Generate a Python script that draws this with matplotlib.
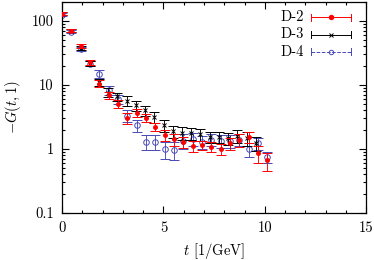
import matplotlib
matplotlib.use("Agg")
import matplotlib.pyplot as plt
from matplotlib.ticker import FixedLocator, FuncFormatter, LogLocator, NullFormatter, MultipleLocator

plt.rcParams['font.family'] = 'cmr10'
plt.rcParams['mathtext.fontset'] = 'cm'
plt.rcParams['axes.formatter.use_mathtext'] = True

# D-2
t_d2 = [0.0, 0.46, 0.92, 1.38, 1.84, 2.30, 2.76, 3.22, 3.68, 4.14, 4.60, 5.06,
        5.52, 5.98, 6.44, 6.90, 7.36, 7.82, 8.28, 8.74, 9.20, 9.66, 10.12]
g_d2 = [130, 70, 40, 22.5, 10.5, 6.9, 5.1, 3.06, 3.66, 3.06, 2.22, 1.65,
        1.41, 1.30, 1.11, 1.15, 1.09, 1.0, 1.22, 1.38, 1.55, 0.86, 0.66]
e_d2 = [8, 4, 3, 2, 1.3, 0.9, 0.8, 0.6, 0.5, 0.4, 0.35, 0.3,
        0.3, 0.25, 0.2, 0.2, 0.2, 0.2, 0.25, 0.3, 0.3, 0.25, 0.2]

# D-3
t_d3 = [0.0, 0.455, 0.91, 1.365, 1.82, 2.275, 2.73, 3.185, 3.64, 4.095, 4.55,
        5.005, 5.46, 5.915, 6.37, 6.825, 7.28, 7.735, 8.19, 8.645, 9.10, 9.555]
g_d3 = [130, 70, 38, 22, 11, 7.6, 6.6, 5.7, 4.8, 4.0, 3.17,
        2.36, 1.9, 1.8, 1.75, 1.7, 1.55, 1.55, 1.47, 1.59, 1.47, 1.22]
e_d3 = [8, 4, 3, 2, 1.5, 1.2, 1.0, 1.0, 0.9, 0.7, 0.6,
        0.5, 0.4, 0.4, 0.35, 0.35, 0.3, 0.3, 0.3, 0.35, 0.35, 0.3]

# D-4
t_d4 = [0.0, 0.46, 0.92, 1.38, 1.84, 2.30, 2.76, 3.22, 3.68, 4.14, 4.60, 5.06,
        5.52, 5.98, 6.44, 6.90, 7.36, 7.82, 8.28, 8.74, 9.20, 9.66, 10.12]
g_d4 = [125, 68, 36.7, 21.5, 15, 8.2, 6.0, 3.3, 2.36, 1.30, 1.30, 1.0,
        0.97, 1.33, 1.45, 1.3, 1.4, 1.35, 1.35, 1.4, 1.0, 1.22, 0.76]
e_d4 = [8, 4, 3, 2, 2, 1.3, 1.0, 0.7, 0.5, 0.35, 0.35, 0.3,
        0.3, 0.35, 0.35, 0.3, 0.3, 0.3, 0.3, 0.3, 0.25, 0.25, 0.15]

labels = ["D-2", "D-3", "D-4"]
c_red = "#ff0000"
c_blk = "#000000"
c_blu = "#4848b8"

fig = plt.figure(figsize=(3.74, 2.6), dpi=100)
ax = fig.add_axes([0.166, 0.181, 0.813, 0.813])

ax.errorbar(t_d2, g_d2, yerr=e_d2, fmt='o', color=c_red, ms=2.8, mew=0.7,
            elinewidth=0.65, capsize=3.8, capthick=0.65, zorder=3)
ax.errorbar(t_d3, g_d3, yerr=e_d3, fmt='x', color=c_blk, ms=3.2, mew=0.7,
            elinewidth=0.65, capsize=3.8, capthick=0.65, zorder=2)
ax.errorbar(t_d4, g_d4, yerr=e_d4, fmt='o', color=c_blu, mfc='none', ms=4.0, mew=0.7,
            elinewidth=0.65, capsize=3.8, capthick=0.65, zorder=1)

ax.set_yscale('log')
ax.set_xlim(0, 15)
ax.set_ylim(0.1, 200)

ax.xaxis.set_major_locator(MultipleLocator(5))
ax.xaxis.set_minor_locator(MultipleLocator(1))
ax.yaxis.set_major_locator(FixedLocator([0.1, 1, 10, 100]))
ax.yaxis.set_minor_locator(LogLocator(base=10, subs=range(2, 10)))
ax.yaxis.set_major_formatter(FuncFormatter(lambda v, p: {0.1: "0.1", 1: "1", 10: "10", 100: "100"}.get(round(v, 1), "")))
ax.yaxis.set_minor_formatter(NullFormatter())
ax.xaxis.set_major_formatter(FuncFormatter(lambda v, p: "%d" % v))

ax.tick_params(which='both', direction='in', top=True, right=True, labelsize=10.5, width=0.8)
ax.tick_params(which='major', length=5, pad=6)
ax.tick_params(which='minor', length=2.5)
for s in ax.spines.values():
    s.set_linewidth(0.9)

ax.set_xlabel(r"$t$ [1/GeV]", fontsize=10.5, labelpad=4)
ax.set_ylabel(r"$-G(t,1)$", fontsize=10.5, labelpad=6)

# gnuplot-style key
leg_styles = [(c_red, 'o', c_red, '-'), (c_blk, 'x', c_blk, '-'), (c_blu, 'o', 'none', '--')]
x0, x1 = 0.82, 0.95
for i, (lab, (col, mk, mfc, ls)) in enumerate(zip(labels, leg_styles)):
    y = 0.925 - i * 0.081
    ax.text(x0 - 0.025, y, lab, transform=ax.transAxes, ha='right', va='center', fontsize=10.5)
    ax.plot([x0, x1], [y, y], transform=ax.transAxes, color=col, lw=0.7, ls=ls, clip_on=False)
    ax.plot([x0, x0], [y - 0.018, y + 0.018], transform=ax.transAxes, color=col, lw=0.7)
    ax.plot([x1, x1], [y - 0.018, y + 0.018], transform=ax.transAxes, color=col, lw=0.7)
    ax.plot([(x0 + x1) / 2], [y], transform=ax.transAxes, marker=mk, color=col, mfc=mfc,
            ms=3.2, mew=0.7)

fig.savefig("out.png", dpi=100)
